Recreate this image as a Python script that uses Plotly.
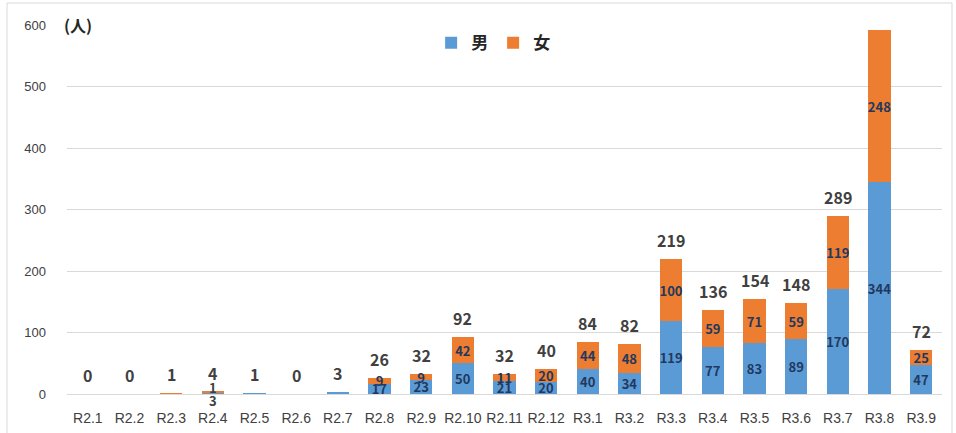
import plotly.graph_objects as go

categories = ["R2.1", "R2.2", "R2.3", "R2.4", "R2.5", "R2.6", "R2.7", "R2.8", "R2.9", "R2.10",
              "R2.11", "R2.12", "R3.1", "R3.2", "R3.3", "R3.4", "R3.5", "R3.6", "R3.7", "R3.8", "R3.9"]
male = [0, 0, 0, 3, 1, 0, 3, 17, 23, 50, 21, 20, 40, 34, 119, 77, 83, 89, 170, 344, 47]
female = [0, 0, 1, 1, 0, 0, 0, 9, 9, 42, 11, 20, 44, 48, 100, 59, 71, 59, 119, 248, 25]
totals = [m + f for m, f in zip(male, female)]

BLUE = "#5B9BD5"
ORANGE = "#ED7D31"
INNER = "#22385E"
TOTAL_C = "#404040"
NUM_FONT = "Noto Sans CJK JP, Noto Sans, sans-serif"
AX_FONT = "Liberation Sans Narrow, Arial Narrow, Liberation Sans, sans-serif"


def lab(vals):
    return [str(v) if v >= 5 else "" for v in vals]


fig = go.Figure()
fig.add_trace(go.Bar(
    x=categories, y=male, name="男", marker=dict(color=BLUE, line=dict(width=0)),
    text=lab(male), textposition="inside", insidetextanchor="middle",
    textangle=0, constraintext="none",
    textfont=dict(color=INNER, size=13, family=NUM_FONT, weight="bold"), hoverinfo="x+y",
))
fig.add_trace(go.Bar(
    x=categories, y=female, name="女", marker=dict(color=ORANGE, line=dict(width=0)),
    text=lab(female), textposition="inside", insidetextanchor="middle",
    textangle=0, constraintext="none",
    textfont=dict(color=INNER, size=13, family=NUM_FONT, weight="bold"), hoverinfo="x+y",
))

annotations = []
px_per_unit = 369 / 600
for c, t in zip(categories, totals):
    y = min(t + 19 / px_per_unit, 608)
    annotations.append(dict(x=c, y=y, xref="x", yref="y", text="<b>%d</b>" % t,
                            showarrow=False, yanchor="middle",
                            font=dict(size=16, color=TOTAL_C, family=NUM_FONT)))

# tiny-segment labels that Excel pushed around the axis for R2.4
i4 = categories.index("R2.4")
annotations.append(dict(x=categories[i4], y=0, xref="x", yref="y", text="<b>%d</b>" % female[i4],
                        showarrow=False, yanchor="middle", yshift=7,
                        font=dict(size=13, color=TOTAL_C, family=NUM_FONT)))
annotations.append(dict(x=categories[i4], y=0, xref="x", yref="y", text="<b>%d</b>" % male[i4],
                        showarrow=False, yanchor="middle", yshift=-6,
                        font=dict(size=13, color=TOTAL_C, family=NUM_FONT)))

annotations.append(dict(x=-5 / 875, y=1.0, xref="paper", yref="paper", text="<b>(人)</b>",
                        showarrow=False, xanchor="left", yanchor="middle",
                        font=dict(size=16, color="#262626", family="Noto Sans CJK JP")))

fig.update_layout(
    width=956, height=433,
    margin=dict(l=67, r=14, t=25, b=39, autoexpand=False),
    paper_bgcolor="white", plot_bgcolor="white",
    barmode="stack", bargap=0.47,
    uniformtext=dict(minsize=13, mode="show"),
    showlegend=True,
    legend=dict(orientation="h", x=0.487, y=0.951, xanchor="center", yanchor="middle",
                font=dict(size=17, color="#262626", family="Noto Sans CJK JP", weight="bold"),
                bgcolor="rgba(0,0,0,0)", itemwidth=30, traceorder="normal"),
    annotations=annotations,
    xaxis=dict(type="category", showgrid=False, showline=True, linecolor="#D9D9D9", linewidth=1,
               ticks="", tickfont=dict(size=14, color="#404040", family=AX_FONT),
               ticklabelstandoff=11, zeroline=False, fixedrange=True, automargin=False),
    yaxis=dict(range=[0, 600], dtick=100, showgrid=True, gridcolor="#D9D9D9", gridwidth=1,
               zeroline=False, showline=False, ticks="",
               tickfont=dict(size=13, color="#404040", family=AX_FONT),
               ticklabelstandoff=20, fixedrange=True, automargin=False),
    shapes=[dict(type="rect", xref="paper", yref="paper",
                 x0=-60 / 875, x1=1 + 10 / 875, y0=-40 / 369, y1=1 + 22 / 369,
                 line=dict(color="#D9D9D9", width=1), fillcolor="rgba(0,0,0,0)", layer="below")],
)

fig.write_html("out.html")
